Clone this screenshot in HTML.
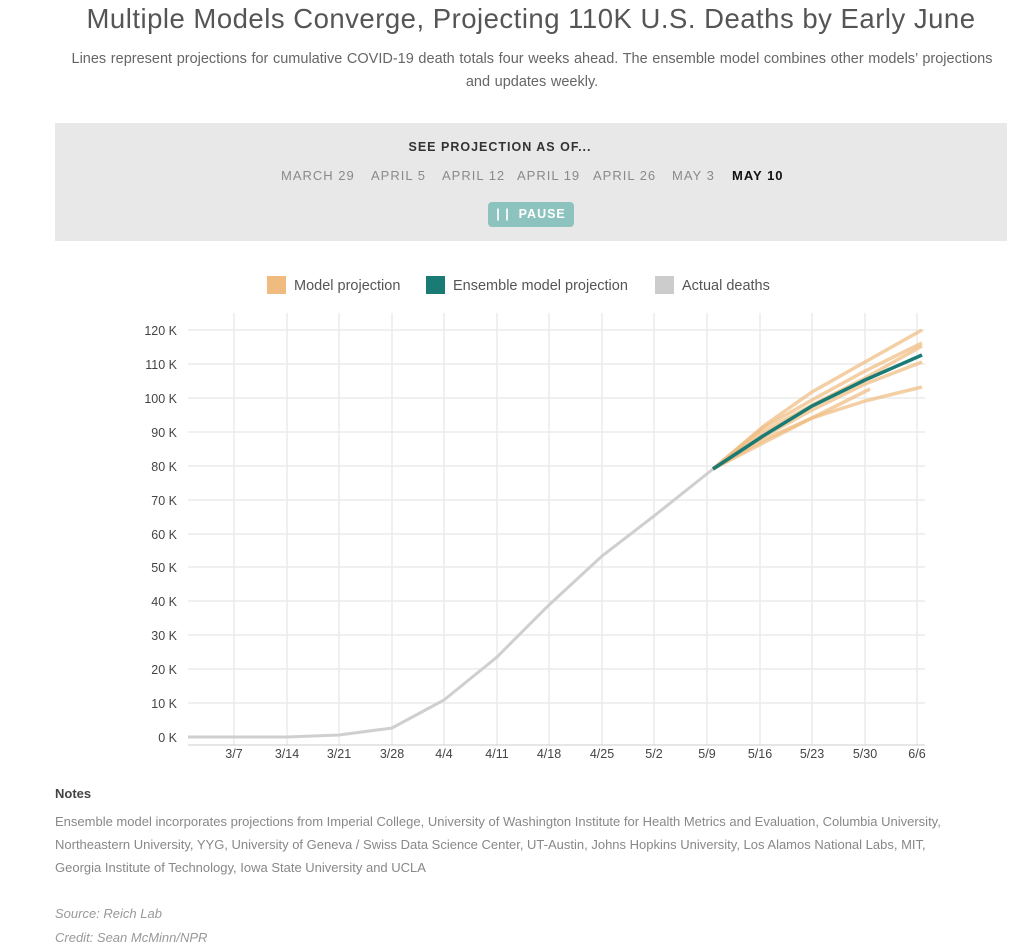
<!DOCTYPE html>
<html><head><style>
body{margin:0;background:#fff;font-family:"Liberation Sans",sans-serif;width:1024px;height:950px;overflow:hidden;position:relative}
.t{position:absolute;left:0;width:1062px;text-align:center;top:3px;font-size:27.5px;color:#555;letter-spacing:0.5px}
.s{position:absolute;left:62px;width:940px;text-align:center;top:48px;font-size:14.5px;color:#666;line-height:23px;word-spacing:0.6px}
.box{position:absolute;left:55px;top:123px;width:952px;height:118px;background:#e8e8e8}
.h{position:absolute;top:140px;width:100%;left:0;text-align:center;font-size:12.5px;font-weight:bold;color:#333;letter-spacing:1px}
.d{position:absolute;top:168px;font-size:13px;color:#8a8a8a;letter-spacing:1px}
.p{position:absolute;left:488px;top:202px;width:86px;height:25px;background:#8cc3bf;border-radius:4px;color:#fff;font-size:12.5px;font-weight:bold;line-height:25px;text-align:center;letter-spacing:1px}
.n{position:absolute;left:55px;font-size:13px;color:#888;line-height:23px}
</style></head><body>
<div class="t">Multiple Models Converge, Projecting 110K U.S. Deaths by Early June</div>
<div class="s">Lines represent projections for cumulative COVID-19 death totals four weeks ahead. The ensemble model combines other models’ projections<br>and updates weekly.</div>
<div class="box"></div>
<div class="h" style="left:-12px">SEE PROJECTION AS OF...</div>
<div class="d" style="left:281px">MARCH 29</div>
<div class="d" style="left:371px">APRIL 5</div>
<div class="d" style="left:442px">APRIL 12</div>
<div class="d" style="left:517px">APRIL 19</div>
<div class="d" style="left:593px">APRIL 26</div>
<div class="d" style="left:672px">MAY 3</div>
<div class="d" style="left:732px;color:#111;font-weight:bold">MAY 10</div>
<div class="p">| |&nbsp; PAUSE</div>
<svg style="position:absolute;left:0;top:0" width="1024" height="950" font-family="Liberation Sans, sans-serif">
<rect x="267" y="276" width="19" height="18" fill="#efbb7e"/><text x="294" y="290" font-size="14.5" fill="#555">Model projection</text>
<rect x="426" y="276" width="19" height="18" fill="#1a7a74"/><text x="453" y="290" font-size="14.5" fill="#555">Ensemble model projection</text>
<rect x="655" y="276" width="19" height="18" fill="#cccccc"/><text x="682" y="290" font-size="14.5" fill="#555">Actual deaths</text>
<g stroke="#ebebeb" stroke-width="1.5">
<line x1="188" x2="925" y1="330" y2="330"/><line x1="188" x2="925" y1="364" y2="364"/><line x1="188" x2="925" y1="398" y2="398"/><line x1="188" x2="925" y1="432" y2="432"/><line x1="188" x2="925" y1="466" y2="466"/><line x1="188" x2="925" y1="500" y2="500"/><line x1="188" x2="925" y1="534" y2="534"/><line x1="188" x2="925" y1="567" y2="567"/><line x1="188" x2="925" y1="601" y2="601"/><line x1="188" x2="925" y1="635" y2="635"/><line x1="188" x2="925" y1="669" y2="669"/><line x1="188" x2="925" y1="703" y2="703"/>
<line y1="313" y2="745" x1="234" x2="234"/><line y1="313" y2="745" x1="287" x2="287"/><line y1="313" y2="745" x1="339" x2="339"/><line y1="313" y2="745" x1="392" x2="392"/><line y1="313" y2="745" x1="444" x2="444"/><line y1="313" y2="745" x1="497" x2="497"/><line y1="313" y2="745" x1="549" x2="549"/><line y1="313" y2="745" x1="602" x2="602"/><line y1="313" y2="745" x1="654" x2="654"/><line y1="313" y2="745" x1="707" x2="707"/><line y1="313" y2="745" x1="760" x2="760"/><line y1="313" y2="745" x1="812" x2="812"/><line y1="313" y2="745" x1="865" x2="865"/><line y1="313" y2="745" x1="917" x2="917"/>
</g>
<line x1="188" x2="925" y1="745" y2="745" stroke="#ccc"/>
<g font-size="12.5" fill="#444" text-anchor="end">
<text x="177" y="335">120 K</text><text x="177" y="369">110 K</text><text x="177" y="403">100 K</text><text x="177" y="437">90 K</text><text x="177" y="471">80 K</text><text x="177" y="505">70 K</text><text x="177" y="539">60 K</text><text x="177" y="572">50 K</text><text x="177" y="606">40 K</text><text x="177" y="640">30 K</text><text x="177" y="674">20 K</text><text x="177" y="708">10 K</text><text x="177" y="742">0 K</text>
</g>
<g font-size="12.5" fill="#444" text-anchor="middle">
<text x="234" y="758">3/7</text><text x="287" y="758">3/14</text><text x="339" y="758">3/21</text><text x="392" y="758">3/28</text><text x="444" y="758">4/4</text><text x="497" y="758">4/11</text><text x="549" y="758">4/18</text><text x="602" y="758">4/25</text><text x="654" y="758">5/2</text><text x="707" y="758">5/9</text><text x="760" y="758">5/16</text><text x="812" y="758">5/23</text><text x="865" y="758">5/30</text><text x="917" y="758">6/6</text>
</g>
<polyline fill="none" stroke="#cfcfcf" stroke-width="3" points="188,737 234,737 287,737 339,735 392,728 444,700 497,657 549,605 602,556 654,516 713,469"/>
<g fill="none" stroke="#efbb7e" stroke-width="3.5" stroke-opacity="0.7">
<polyline points="713,469 765,425 812,392 865,362 922,330"/>
<polyline points="713,469 763,428 812,400 865,371 922,343"/>
<polyline points="713,469 763,432 812,405 865,378 922,346"/>
<polyline points="713,469 763,437 812,410 865,384 922,362"/>
<polyline points="713,469 763,440 812,418 870,389"/>
<polyline points="713,469 763,443 812,418 865,401 922,387"/>
</g>
<polyline fill="none" stroke="#1a7a74" stroke-width="3.5" points="713,469 763,436 812,406 865,380 922,355"/>
</svg>
<div class="n" style="top:782px;color:#444;font-weight:bold">Notes</div>
<div class="n" style="top:810px;width:945px">Ensemble model incorporates projections from Imperial College, University of Washington Institute for Health Metrics and Evaluation, Columbia University,<br>Northeastern University, YYG, University of Geneva / Swiss Data Science Center, UT-Austin, Johns Hopkins University, Los Alamos National Labs, MIT,<br>Georgia Institute of Technology, Iowa State University and UCLA</div>
<div class="n" style="top:902px;font-style:italic;color:#999">Source: Reich Lab</div>
<div class="n" style="top:926px;font-style:italic;color:#999">Credit: Sean McMinn/NPR</div>
</body></html>
